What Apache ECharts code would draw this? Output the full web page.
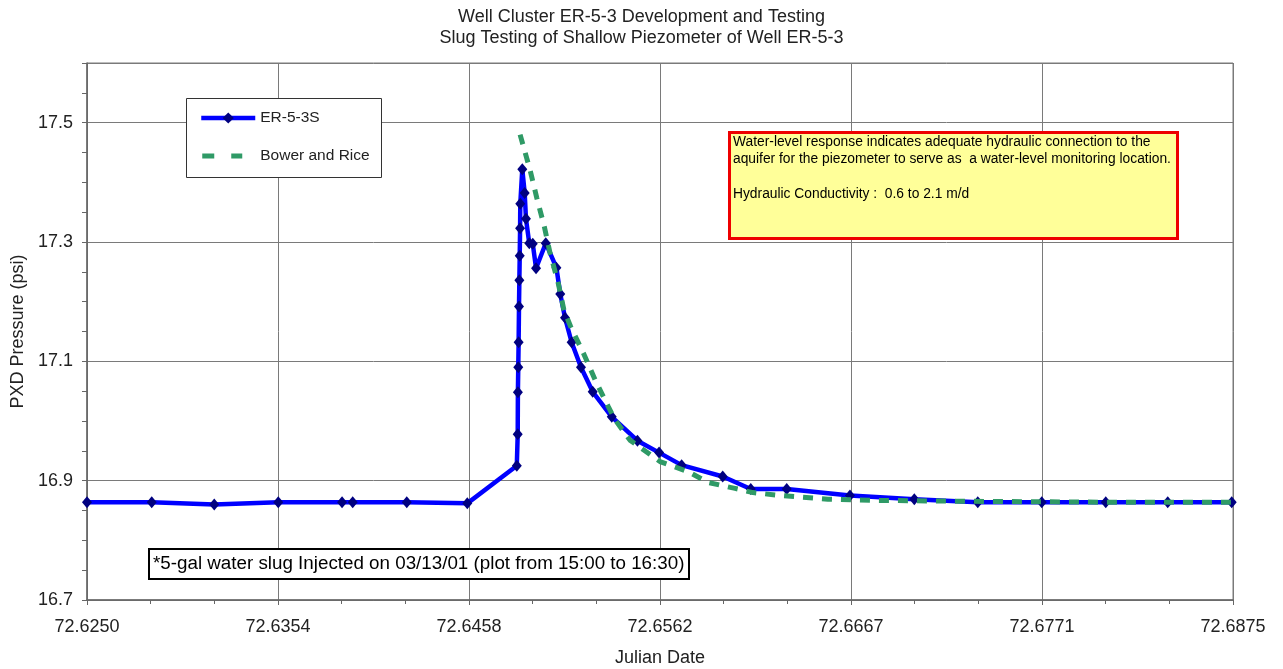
<!DOCTYPE html>
<html>
<head>
<meta charset="utf-8">
<script src="https://cdn.jsdelivr.net/npm/echarts@6/dist/echarts.min.js"></script>
<style>
html,body{margin:0;padding:0;background:#fff;}
#chart{width:1283px;height:669px;}
</style>
</head>
<body>
<div id="chart"></div>
<script>
// ER-5-3S measured pressure
const erTime = [72.62500,72.62853,72.63194,72.63543,72.63891,72.63949,72.64244,72.64574,72.64844,72.64849,72.64850,72.64852,72.64854,72.64856,72.64858,72.64860,72.64862,72.64863,72.64874,72.64887,72.64894,72.64912,72.64931,72.64949,72.65002,72.65060,72.65081,72.65107,72.65143,72.65194,72.65258,72.65362,72.65502,72.65620,72.65743,72.65967,72.66120,72.66316,72.66661,72.67012,72.67358,72.67707,72.68056,72.68394,72.68743];
const erPressure = [16.864,16.864,16.860,16.864,16.864,16.864,16.864,16.862,16.925,16.978,17.048,17.090,17.132,17.192,17.236,17.277,17.323,17.364,17.422,17.382,17.339,17.298,17.297,17.256,17.298,17.257,17.213,17.173,17.132,17.090,17.049,17.007,16.967,16.947,16.926,16.907,16.886,16.886,16.875,16.869,16.864,16.864,16.864,16.864,16.864];
// Bower and Rice fit
const brTime = [72.64862,72.64916,72.64953,72.64994,72.65025,72.65070,72.65101,72.65138,72.65207,72.65271,72.65343,72.65380,72.65461,72.65625,72.65779,72.65888,72.66034,72.66132,72.66289,72.66541,72.66787,72.67114,72.67479,72.68025,72.68750];
const brPressure = [17.480,17.421,17.374,17.326,17.282,17.231,17.186,17.158,17.114,17.069,17.024,17.002,16.968,16.932,16.915,16.897,16.887,16.880,16.875,16.869,16.867,16.866,16.865,16.864,16.864];
// tick labels
const xTickLabels = ['72.6250','72.6354','72.6458','72.6562','72.6667','72.6771','72.6875'];
const yTickLabels = ['16.7','16.9','17.1','17.3','17.5'];
const seriesNames = ['ER-5-3S','Bower and Rice'];
const titleLines = ['Well Cluster ER-5-3 Development and Testing','Slug Testing of Shallow Piezometer of Well ER-5-3'];
const noteText = '*5-gal water slug Injected on 03/13/01 (plot from 15:00 to 16:30)';
const boxLines = ['Water-level response indicates adequate hydraulic connection to the','aquifer for the piezometer to serve as  a water-level monitoring location.','','Hydraulic Conductivity :  0.6 to 2.1 m/d'];

const X_MIN = 72.625, X_MAX = 72.6875, X_STEP = 1/96;
const Y_MIN = 16.7, Y_MAX = 17.6, Y_STEP = 0.2;
const FONT = '"Liberation Sans", Arial, sans-serif';
const BLUE = '#0000ff', NAVY = '#000080', GREEN = '#2f9a66';

const erData = erTime.map((t,i)=>[t, erPressure[i]]);
const brData = brTime.map((t,i)=>[t, brPressure[i]]);

const chart = echarts.init(document.getElementById('chart'), null, {renderer:'canvas'});
const gridCol = '#7a7a7a';
const dashIcon = 'path://M0,0h0.01v0.01h-0.01z M54,14h-0.01v-0.01h0.01z M1,4.5h12v5h-12z M30,4.5h11v5h-11z';
const option = {
  animation:false,
  backgroundColor:'#fff',
  title:{
    text: titleLines.join('\n'),
    left:'center', top:2,
    textStyle:{fontFamily:FONT, fontSize:18, fontWeight:'normal', color:'#222', lineHeight:21}
  },
  grid:{left:87, right:50, top:63, bottom:69, show:true, borderColor:gridCol, borderWidth:1, backgroundColor:'transparent', outerBoundsMode:'none', containLabel:false},
  legend:{
    orient:'vertical', left:199, top:110, padding:0, itemWidth:54, itemHeight:14, itemGap:22,
    data: [
      {name:seriesNames[0], lineStyle:{width:4.5, color:BLUE}, itemStyle:{color:NAVY}},
      {name:seriesNames[1], icon:dashIcon, itemStyle:{color:GREEN}}
    ],
    textStyle:{fontFamily:FONT, fontSize:15.5, color:'#222'},
    z:6
  },
  xAxis:[{
    type:'value', min:X_MIN, max:X_MAX, interval:X_STEP,
    name:'Julian Date', nameLocation:'middle', nameGap:49,
    nameTextStyle:{fontFamily:FONT, fontSize:18, color:'#222'},
    axisLine:{show:true, lineStyle:{color:'#666', width:1.5}},
    axisTick:{show:true, length:5, lineStyle:{color:'#666'}},
    axisLabel:{margin:18, fontFamily:FONT, fontSize:18, color:'#222',
      formatter:(v)=>{const k=Math.round((v-X_MIN)/X_STEP); return xTickLabels[k]||'';}},
    splitLine:{show:true, lineStyle:{color:gridCol, width:1}}
  },{
    type:'value', min:X_MIN, max:X_MAX, interval:X_STEP/3, position:'bottom',
    axisLine:{show:false}, axisTick:{show:true, length:4, lineStyle:{color:'#666'}},
    axisLabel:{show:false}, splitLine:{show:false}
  }],
  yAxis:[{
    type:'value', min:Y_MIN, max:Y_MAX, interval:Y_STEP,
    name:'PXD Pressure (psi)', nameLocation:'middle', nameGap:59,
    nameTextStyle:{fontFamily:FONT, fontSize:18, color:'#222'},
    axisLine:{show:true, lineStyle:{color:'#666', width:1.5}},
    axisTick:{show:true, length:5, lineStyle:{color:'#666'}},
    axisLabel:{margin:14, fontFamily:FONT, fontSize:18, color:'#222', showMaxLabel:false,
      formatter:(v)=>{const k=Math.round((v-Y_MIN)/Y_STEP); return (Math.abs(Y_MIN+k*Y_STEP-v)<1e-6 && yTickLabels[k])?yTickLabels[k]:'';}},
    splitLine:{show:true, lineStyle:{color:gridCol, width:1}}
  },{
    type:'value', min:Y_MIN, max:Y_MAX, interval:0.05, position:'left',
    axisLine:{show:false}, axisTick:{show:true, length:5, lineStyle:{color:'#666'}},
    axisLabel:{show:false}, splitLine:{show:false}
  }],
  series:[{
    name:seriesNames[0], type:'line', data:erData, xAxisIndex:0, yAxisIndex:0,
    symbol:'diamond', symbolSize:[10,12], showSymbol:true,
    itemStyle:{color:NAVY},
    lineStyle:{color:BLUE, width:4.5},
    z:2
  },{
    name:seriesNames[1], type:'line', data:brData, xAxisIndex:0, yAxisIndex:0,
    symbol:'none',
    itemStyle:{color:GREEN},
    lineStyle:{color:GREEN, width:5, type:[10,9]},
    z:3
  }],
  graphic:[
    {type:'rect', left:186, top:98, z:5, shape:{width:195, height:79}, style:{fill:'#fff', stroke:'#333', lineWidth:1}},
    {type:'rect', left:728, top:131, z:5, shape:{width:448, height:106}, style:{fill:'#ffff99', stroke:'#ee0000', lineWidth:3}},
    {type:'text', left:733, top:133, z:6, style:{text:boxLines.join('\n'), fontFamily:FONT, fontSize:13.8, lineHeight:17.5, fill:'#000'}},
    {type:'rect', left:148, top:548, z:5, shape:{width:540, height:30}, style:{fill:'#fff', stroke:'#000', lineWidth:2}},
    {type:'text', z:6, style:{x:153, y:564, verticalAlign:'middle', text:noteText, fontFamily:FONT, fontSize:18.8, fill:'#000'}}
  ]
};
chart.setOption(option);
</script>
</body>
</html>
